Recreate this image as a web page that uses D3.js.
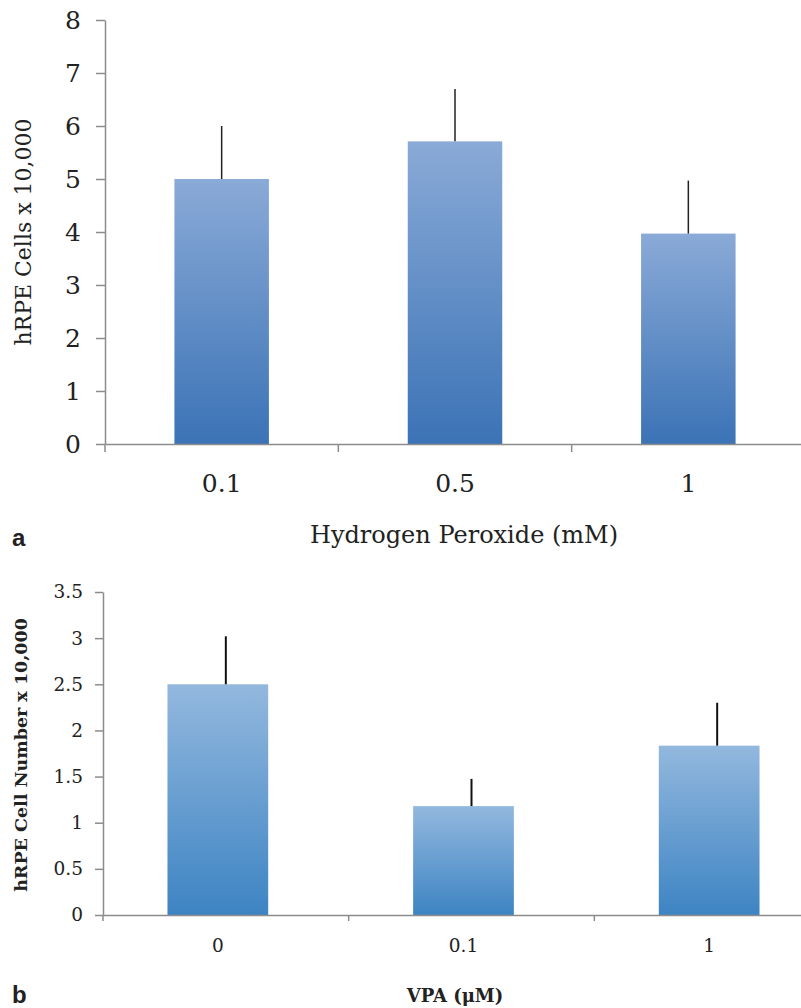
<!DOCTYPE html>
<html>
<head>
<meta charset="utf-8">
<script src="https://cdn.jsdelivr.net/npm/d3@7"></script>
<style>
body { margin: 0; background: #fff; }
.axis path, .axis line { stroke: #8c8c8c; stroke-width: 1.5; }
</style>
</head>
<body>
<script>
// panel a
const peroxide = ['0.1', '0.5', '1'];
const cellsA = [5.0, 5.71, 3.97];
const errA = [1.0, 0.99, 1.0];
const ticksA = [0, 1, 2, 3, 4, 5, 6, 7, 8];

// panel b
const vpa = ['0', '0.1', '1'];
const cellsB = [2.5, 1.18, 1.835];
const errB = [0.52, 0.295, 0.465];
const ticksB = [0, 0.5, 1, 1.5, 2, 2.5, 3, 3.5];

const width = 801;
const height = 1008;
const serif = '"DejaVu Serif", serif';

const svg = d3.select('body')
    .append('svg')
    .attr('width', width)
    .attr('height', height);

const defs = svg.append('defs');
function grad(id, top, bottom) {
    const g = defs.append('linearGradient')
        .attr('id', id)
        .attr('x1', 0).attr('y1', 0).attr('x2', 0).attr('y2', 1);
    g.append('stop').attr('offset', '0%').attr('stop-color', top);
    g.append('stop').attr('offset', '100%').attr('stop-color', bottom);
}
grad('gradA', '#8aaad7', '#3b73b6');
grad('gradB', '#93b8de', '#3d84c3');

// ---- panel a ----
const xA = d3.scaleBand()
    .domain(peroxide)
    .range([105, 805]);

const yA = d3.scaleLinear()
    .domain([0, 8])
    .range([444, 20]);

svg.append('g')
    .attr('class', 'axis')
    .attr('transform', 'translate(105,0)')
    .call(d3.axisLeft(yA).tickValues(ticksA).tickSize(9).tickSizeOuter(0).tickPadding(15))
    .call(g => g.selectAll('text')
        .attr('font-family', serif)
        .attr('font-size', 25)
        .attr('fill', '#222'));

const barWA = xA.bandwidth() * 0.405;
svg.append('g')
    .selectAll('rect')
    .data(cellsA)
    .enter()
    .append('rect')
    .attr('x', (d, i) => xA(peroxide[i]) + xA.bandwidth() / 2 - barWA / 2)
    .attr('y', d => yA(d))
    .attr('width', barWA)
    .attr('height', d => yA(0) - yA(d))
    .attr('fill', 'url(#gradA)');

svg.append('g')
    .selectAll('line')
    .data(cellsA)
    .enter()
    .append('line')
    .attr('x1', (d, i) => xA(peroxide[i]) + xA.bandwidth() / 2)
    .attr('x2', (d, i) => xA(peroxide[i]) + xA.bandwidth() / 2)
    .attr('y1', d => yA(d))
    .attr('y2', (d, i) => yA(d + errA[i]))
    .attr('stroke', '#222')
    .attr('stroke-width', 1.5);

const xAxisA = svg.append('g')
    .attr('class', 'axis')
    .attr('transform', `translate(0,${yA(0)})`)
    .call(d3.axisBottom(xA).tickSize(0).tickPadding(30))
    .call(g => g.selectAll('text')
        .attr('font-family', serif)
        .attr('font-size', 25)
        .attr('fill', '#222'));

// tick marks between categories
xAxisA.selectAll('.sep')
    .data(peroxide)
    .enter()
    .append('line')
    .attr('class', 'sep')
    .attr('x1', d => xA(d))
    .attr('x2', d => xA(d))
    .attr('y1', 0)
    .attr('y2', 8);

svg.append('text')
    .attr('transform', `translate(31,232) rotate(-90)`)
    .attr('text-anchor', 'middle')
    .attr('font-family', serif)
    .attr('font-size', 22)
    .attr('fill', '#222')
    .text('hRPE Cells x 10,000');

svg.append('text')
    .attr('x', 464)
    .attr('y', 543)
    .attr('text-anchor', 'middle')
    .attr('font-family', serif)
    .attr('font-size', 24)
    .attr('fill', '#222')
    .text('Hydrogen Peroxide (mM)');

svg.append('text')
    .attr('x', 12)
    .attr('y', 546)
    .attr('font-family', 'Liberation Sans, Arial, sans-serif')
    .attr('font-weight', 'bold')
    .attr('font-size', 24)
    .attr('fill', '#222')
    .text('a');

// ---- panel b ----
const xB = d3.scaleBand()
    .domain(vpa)
    .range([103, 840]);

const yB = d3.scaleLinear()
    .domain([0, 3.5])
    .range([915, 592]);

svg.append('g')
    .attr('class', 'axis')
    .attr('transform', 'translate(103,0)')
    .call(d3.axisLeft(yB).tickValues(ticksB).tickFormat(d => String(d))
        .tickSize(8).tickSizeOuter(0).tickPadding(12))
    .call(g => g.selectAll('text')
        .attr('font-family', serif)
        .attr('font-size', 18.5)
        .attr('fill', '#222'));

const barWB = xB.bandwidth() * 0.41;
svg.append('g')
    .selectAll('rect')
    .data(cellsB)
    .enter()
    .append('rect')
    .attr('x', (d, i) => xB(vpa[i]) + xB.bandwidth() / 2 - barWB / 2 - 8)
    .attr('y', d => yB(d))
    .attr('width', barWB)
    .attr('height', d => yB(0) - yB(d))
    .attr('fill', 'url(#gradB)');

svg.append('g')
    .selectAll('line')
    .data(cellsB)
    .enter()
    .append('line')
    .attr('x1', (d, i) => xB(vpa[i]) + xB.bandwidth() / 2)
    .attr('x2', (d, i) => xB(vpa[i]) + xB.bandwidth() / 2)
    .attr('y1', d => yB(d))
    .attr('y2', (d, i) => yB(d + errB[i]))
    .attr('stroke', '#111')
    .attr('stroke-width', 2);

const xAxisB = svg.append('g')
    .attr('class', 'axis')
    .attr('transform', `translate(0,${yB(0)})`)
    .call(d3.axisBottom(xB).tickSize(0).tickPadding(24))
    .call(g => g.selectAll('text')
        .attr('font-family', serif)
        .attr('font-size', 18.5)
        .attr('fill', '#222')
        .attr('dx', -8));

xAxisB.selectAll('.sep')
    .data(vpa)
    .enter()
    .append('line')
    .attr('class', 'sep')
    .attr('x1', d => xB(d))
    .attr('x2', d => xB(d))
    .attr('y1', 0)
    .attr('y2', 6);

svg.append('text')
    .attr('transform', `translate(27,755) rotate(-90)`)
    .attr('text-anchor', 'middle')
    .attr('font-family', serif)
    .attr('font-weight', 'bold')
    .attr('font-size', 17.5)
    .attr('fill', '#222')
    .text('hRPE Cell Number x 10,000');

svg.append('text')
    .attr('x', 455)
    .attr('y', 1002)
    .attr('text-anchor', 'middle')
    .attr('font-family', serif)
    .attr('font-weight', 'bold')
    .attr('font-size', 18)
    .attr('fill', '#222')
    .text('VPA (μM)');

svg.append('text')
    .attr('x', 12)
    .attr('y', 1003)
    .attr('font-family', 'Liberation Sans, Arial, sans-serif')
    .attr('font-weight', 'bold')
    .attr('font-size', 24)
    .attr('fill', '#222')
    .text('b');
</script>
</body>
</html>
